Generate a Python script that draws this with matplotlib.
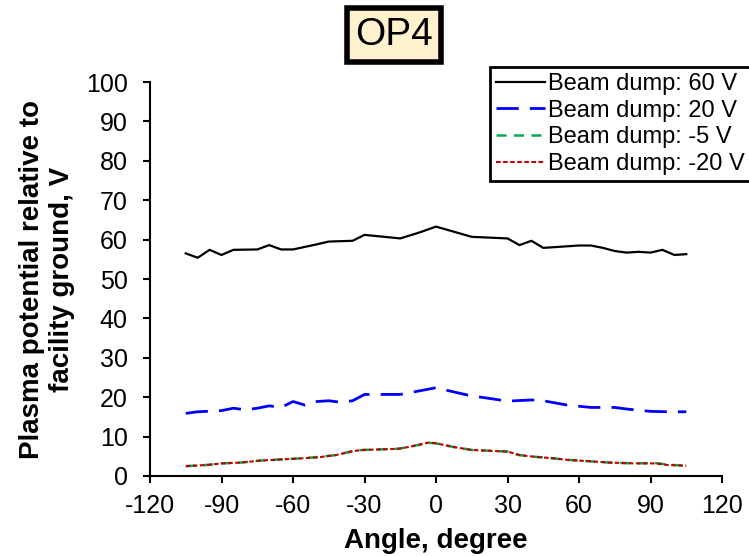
import matplotlib
matplotlib.use("Agg")
import matplotlib.pyplot as plt

plt.rcParams['font.family'] = ['Liberation Sans', 'DejaVu Sans']
plt.rcParams['axes.unicode_minus'] = False

# angle (degree) and plasma potential (V) per beam dump setting
ang_60 = [-105, -100, -95, -90, -85, -75, -70, -65, -60, -50, -45, -35, -30, -15, -7, 0,
          15, 30, 35, 40, 45, 60, 65, 70, 75, 80, 85, 90, 95, 100, 105]
v_60 = [56.5, 55.4, 57.4, 56.1, 57.4, 57.5, 58.6, 57.5, 57.5, 58.8, 59.5, 59.7, 61.2, 60.3, 61.8, 63.3,
        60.7, 60.3, 58.6, 59.7, 57.9, 58.5, 58.5, 57.9, 57.1, 56.7, 56.9, 56.7, 57.4, 56.1, 56.3]

ang_20 = [-105, -100, -90, -85, -80, -75, -70, -65, -60, -55, -50, -45, -40, -35, -30, -15, 0,
          7, 15, 20, 30, 40, 45, 55, 65, 75, 80, 90, 98, 105]
v_20 = [15.9, 16.3, 16.6, 17.2, 16.8, 17.2, 17.8, 17.4, 18.9, 18.0, 18.9, 19.1, 18.7, 19.1, 20.7, 20.7, 22.4,
        21.4, 20.3, 19.9, 19.0, 19.3, 19.1, 18.0, 17.4, 17.4, 17.0, 16.4, 16.3, 16.3]

ang_low = [-105, -96, -90, -82, -74, -65, -56, -50, -42, -35, -31, -16, -12, -3, 0,
           7, 15, 30, 35, 41, 49, 55, 63, 73, 83, 92, 97, 105]
v_m5 = [2.5, 2.8, 3.2, 3.4, 3.9, 4.2, 4.5, 4.8, 5.3, 6.3, 6.6, 6.9, 7.3, 8.4, 8.3,
        7.4, 6.6, 6.2, 5.3, 4.9, 4.5, 4.1, 3.8, 3.4, 3.2, 3.3, 2.9, 2.6]
v_m20 = [2.5, 2.8, 3.2, 3.4, 3.9, 4.2, 4.5, 4.7, 5.3, 6.3, 6.6, 6.9, 7.3, 8.5, 8.3,
         7.4, 6.6, 6.2, 5.3, 4.9, 4.5, 4.1, 3.8, 3.4, 3.2, 3.2, 2.8, 2.6]

labels = ['Beam dump: 60 V', 'Beam dump: 20 V', 'Beam dump: -5 V', 'Beam dump: -20 V']

fig = plt.figure(figsize=(7.49, 5.56), dpi=100)
ax = fig.add_axes([0.2003, 0.1439, 0.7637, 0.7086])

ax.plot(ang_60, v_60, color='black', lw=1.6, label=labels[0])
ax.plot(ang_20, v_20, color='#0000FF', lw=2.0, dashes=(8, 4), label=labels[1])
ax.plot(ang_low, v_m5, color='#00B050', lw=1.8, dashes=(4, 3), label=labels[2])
ax.plot(ang_low, v_m20, color='#C00000', lw=1.5, dashes=(2.2, 1.2), label=labels[3])

ax.set_xlim(-120, 120)
ax.set_ylim(0, 100)
ax.set_xticks(range(-120, 121, 30))
ax.set_yticks(range(0, 101, 10))
for s in ['top', 'right']:
    ax.spines[s].set_visible(False)
for s in ['left', 'bottom']:
    ax.spines[s].set_linewidth(1.5)
ax.tick_params(direction='out', length=5, width=1.5, labelsize=18)
ax.tick_params(axis='y', pad=11)
ax.tick_params(axis='x', pad=8)

ax.set_xlabel('Angle, degree', fontsize=20, fontweight='bold', labelpad=7)
ax.set_ylabel('Plasma potential relative to\nfacility ground, V', fontsize=20,
              fontweight='bold', labelpad=8, linespacing=1.2)

leg = fig.legend(loc='upper left', bbox_to_anchor=(490 / 749, 1 - 67 / 556), fontsize=17,
                 frameon=True, fancybox=False, edgecolor='black', framealpha=1,
                 handlelength=2.1, handletextpad=0.1, labelspacing=0.2, borderpad=0.25,
                 borderaxespad=0)
leg.get_frame().set_linewidth(2)

fig.text(394 / 749, 1 - 35 / 556, 'OP4', fontsize=28, ha='center', va='center',
         bbox=dict(boxstyle='square,pad=0.22', facecolor='#FFF2CC', edgecolor='black', linewidth=4))

fig.savefig('out.png', dpi=100)
